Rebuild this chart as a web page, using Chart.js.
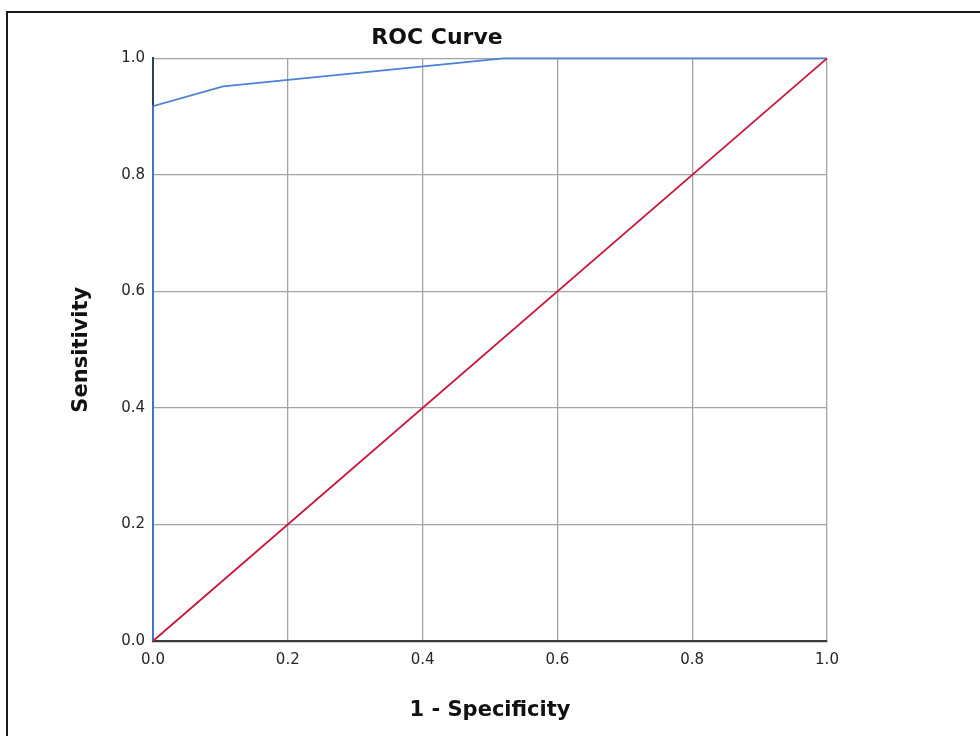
<!DOCTYPE html>
<html>
<head>
<meta charset="utf-8">
<script src="https://cdn.jsdelivr.net/npm/chart.js@4"></script>
<style>
  html, body { margin: 0; padding: 0; background: #fff; overflow: hidden; }
  #wrap { position: relative; width: 980px; height: 736px; }
  #frame { position: absolute; left: 6px; top: 11px; right: -10px; bottom: -10px;
           border-left: 2px solid #1a1a1a; border-top: 2px solid #1a1a1a; pointer-events: none; }
</style>
</head>
<body>
<div id="wrap">
  <canvas id="roc" width="980" height="736"></canvas>
  <div id="frame"></div>
</div>
<script>
// ROC curve points
var fpr = [0, 0, 0.104, 0.52, 1];
var sensitivity = [0, 0.918, 0.952, 1, 1];
// reference (chance) line
var refX = [0, 1];
var refY = [0, 1];
var tickValues = [0, 0.2, 0.4, 0.6, 0.8, 1.0];

function toPoints(xs, ys) {
    var pts = [];
    for (var i = 0; i < xs.length; i++) {
        pts.push({x: xs[i], y: ys[i]});
    }
    return pts;
}

var fontFam = "'DejaVu Sans', Verdana, sans-serif";

var ctx = document.getElementById("roc").getContext("2d");
var rocChart = new Chart(ctx, {
    type: 'scatter',
    data: {
        datasets: [{
            label: 'Reference Line',
            data: toPoints(refX, refY),
            showLine: true,
            borderColor: '#c8163e',
            borderWidth: 1.8,
            pointRadius: 0,
            clip: 4
        }, {
            label: 'ROC',
            data: toPoints(fpr, sensitivity),
            showLine: true,
            borderColor: '#4a82d4',
            borderWidth: 1.6,
            pointRadius: 0,
            clip: 4
        }]
    },
    options: {
        responsive: false,
        devicePixelRatio: 1,
        animation: false,
        layout: { padding: { left: 47, right: 153, top: 24, bottom: 0 } },
        plugins: {
            legend: { display: false },
            tooltip: { enabled: false },
            title: {
                display: true,
                text: 'ROC Curve',
                color: '#111',
                font: { family: fontFam, size: 22, weight: 'bold' },
                padding: { top: 1, bottom: 7 }
            }
        },
        scales: {
            x: {
                type: 'linear',
                min: 0,
                max: 1,
                afterBuildTicks: function (s) { s.ticks = tickValues.map(function (v) { return {value: v}; }); },
                afterFit: function (s) { s.height = 95; },
                ticks: {
                    padding: 10,
                    color: '#262626',
                    font: { family: fontFam, size: 15 },
                    callback: function (v) { return Number(v).toFixed(1); }
                },
                grid: { color: '#a4a4a4', lineWidth: 1.3, drawTicks: false },
                border: { color: '#3a3a3a', width: 2.2 },
                title: {
                    display: true,
                    text: '1 - Specificity',
                    color: '#111',
                    font: { family: fontFam, size: 21, weight: 'bold' },
                    padding: { top: 0, bottom: 13 }
                }
            },
            y: {
                type: 'linear',
                min: 0,
                max: 1,
                afterBuildTicks: function (s) { s.ticks = tickValues.map(function (v) { return {value: v}; }); },
                afterFit: function (s) { s.width = 106; },
                ticks: {
                    padding: 8,
                    color: '#262626',
                    font: { family: fontFam, size: 15 },
                    callback: function (v) { return Number(v).toFixed(1); }
                },
                grid: { color: '#a4a4a4', lineWidth: 1.3, drawTicks: false },
                border: { color: '#2c3f66', width: 2 },
                title: {
                    display: true,
                    text: 'Sensitivity',
                    color: '#111',
                    font: { family: fontFam, size: 21, weight: 'bold' },
                    padding: { top: 22, bottom: 0 }
                }
            }
        }
    }
});
</script>
</body>
</html>
